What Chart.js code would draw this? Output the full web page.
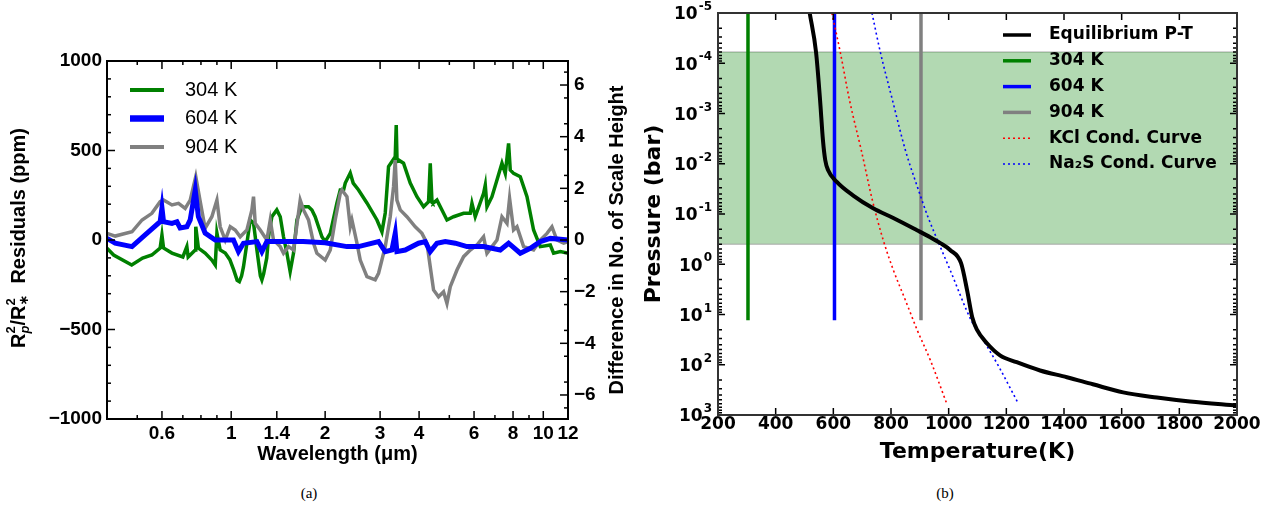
<!DOCTYPE html>
<html>
<head>
<meta charset="utf-8">
<script src="https://cdn.jsdelivr.net/npm/chart.js@4.4.0/dist/chart.umd.min.js"></script>
<style>
  body { margin: 0; background: #fff; width: 1280px; height: 513px; position: relative; overflow: hidden; }
  .panel { position: absolute; top: 0; width: 640px; height: 480px; }
  .cap { position: absolute; top: 485px; width: 60px; text-align: center; font: 15px "Liberation Serif", serif; color: #000; }
</style>
</head>
<body>
<div class="panel" style="left:0"><canvas id="spec" width="640" height="480"></canvas></div>
<div class="panel" style="left:640px"><canvas id="pt" width="640" height="480"></canvas></div>
<div class="cap" style="left:279px">(a)</div>
<div class="cap" style="left:915px">(b)</div>
<script>
// ---- panel (a): residual spectra ----
var wl304 = [0.40, 0.42, 0.48, 0.52, 0.557, 0.592, 0.60, 0.607, 0.646, 0.70, 0.721, 0.728, 0.767, 0.770, 0.785, 0.825, 0.867, 0.889, 0.90, 0.922, 0.957, 0.99, 1.02, 1.045, 1.062, 1.08, 1.095, 1.123, 1.151, 1.179, 1.209, 1.24, 1.254, 1.27, 1.30, 1.317, 1.35, 1.40, 1.436, 1.471, 1.508, 1.545, 1.584, 1.624, 1.685, 1.769, 1.814, 1.858, 1.905, 1.953, 2.0, 2.077, 2.182, 2.236, 2.291, 2.32, 2.407, 2.46, 2.559, 2.722, 2.931, 3.041, 3.116, 3.193, 3.354, 3.379, 3.40, 3.437, 3.566, 3.747, 3.937, 4.134, 4.289, 4.343, 4.40, 4.431, 4.563, 4.735, 4.913, 5.159, 5.555, 5.834, 5.908, 6.053, 6.437, 6.518, 6.60, 6.848, 7.105, 7.372, 7.554, 7.741, 7.838, 8.031, 8.438, 8.867, 9.309, 9.781, 10.53, 10.79, 11.34, 11.91, 12.0];
var res304 = [-46, -84, -140, -101, -84, -45, 28, -45, -73, -95, -37, -95, -56, 74, -45, -73, -112, -140, 39, -56, -73, -110, -170, -225, -233, -200, -149, -17, 112, 95, -56, -200, -223, -190, -100, 18, 130, 168, 130, 18, -73, -177, -73, 112, 186, 186, 168, 130, 74, 18, -9, 37, 207, 279, 279, 318, 374, 318, 279, 207, 112, 46, 151, 410, 465, 642, 440, 447, 429, 318, 242, 186, 214, 429, 210, 205, 223, 168, 112, 130, 149, 149, 205, 130, 261, 307, 186, 242, 335, 429, 372, 540, 391, 372, 354, 242, 56, -37, -28, -74, -65, -73, -73];

var wl604 = [0.40, 0.425, 0.481, 0.53, 0.592, 0.60, 0.607, 0.646, 0.67, 0.686, 0.721, 0.739, 0.767, 0.785, 0.825, 0.889, 0.957, 1.017, 1.055, 1.095, 1.209, 1.254, 1.301, 1.5, 1.7, 2.0, 2.349, 2.559, 2.966, 3.116, 3.273, 3.354, 3.396, 3.611, 3.984, 4.186, 4.343, 4.563, 4.852, 5.224, 5.695, 6.437, 7.28, 7.741, 8.438, 9.084, 9.781, 10.53, 11.34, 12.0];
var res604 = [9, -18, -37, 28, 102, 179, 102, 93, 102, 67, 74, 112, 279, 130, 39, 0, 0, 0, -65, -18, -9, -65, -9, -9, -9, -15, -37, -37, -9, -65, -56, 37, -65, -56, -18, -9, -65, -18, -9, -18, -37, -37, -56, -18, -74, -46, -9, 9, 4, 0];

var wl904 = [0.40, 0.425, 0.481, 0.518, 0.557, 0.592, 0.607, 0.646, 0.678, 0.712, 0.739, 0.770, 0.796, 0.825, 0.867, 0.90, 0.922, 0.957, 0.993, 1.03, 1.069, 1.123, 1.165, 1.179, 1.194, 1.239, 1.301, 1.334, 1.366, 1.436, 1.471, 1.526, 1.584, 1.664, 1.705, 1.769, 1.836, 1.882, 2.001, 2.077, 2.154, 2.236, 2.264, 2.349, 2.407, 2.437, 2.529, 2.591, 2.722, 2.893, 2.966, 3.116, 3.233, 3.313, 3.354, 3.396, 3.48, 3.656, 3.888, 4.085, 4.239, 4.343, 4.45, 4.617, 4.791, 4.913, 5.035, 5.289, 5.555, 5.834, 6.13, 6.437, 6.6, 6.848, 7.105, 7.372, 7.65, 7.798, 8.031, 8.235, 8.647, 9.309, 9.781, 10.28, 10.66, 11.06, 11.62, 12.0];
var res904 = [37, 22, 46, 112, 149, 214, 223, 196, 205, 177, 223, 354, 214, 65, 130, 223, 74, 0, 74, 56, 18, 56, 168, 242, 93, 56, 0, 112, 0, -37, -74, -37, -56, 223, 168, 112, -18, -74, -112, -56, 112, 261, 279, 242, 74, 112, -18, -112, -205, -223, -186, -37, 130, 298, 447, 223, 168, 130, 74, 37, -18, -149, -279, -317, -289, -354, -261, -168, -93, -56, -28, 18, -74, -37, 0, 130, 93, 233, 56, 74, -37, -56, 0, 37, 74, 0, -18, -9];

var wlTicks = [0.6, 1, 1.4, 2, 3, 4, 6, 8, 10, 12];
var wlMinor = [0.5, 0.7, 0.8, 0.9, 5, 7, 9];
var residualTicks = [-1000, -500, 0, 500, 1000];
var scaleHeightTicks = [-6, -4, -2, 0, 2, 4, 6];

// ---- panel (b): P-T profiles ----
var tempEq = [518, 540, 554, 564, 572, 582, 612, 669, 738, 808, 890, 936, 971, 1005, 1043, 1064, 1082, 1098, 1132, 1178, 1236, 1317, 1410, 1500, 1605, 1722, 1837, 2000];
var presEq = [1e-5, 6e-5, 5.4e-4, 3.4e-3, 8.5e-3, 0.0135, 0.023, 0.043, 0.077, 0.12, 0.21, 0.29, 0.38, 0.52, 0.95, 3.3, 11.5, 20, 37, 65, 89, 130, 177, 245, 355, 450, 540, 650];
var tempKCl = [595, 624, 656, 697, 735, 773, 808, 850, 891, 936, 995];
var presKCl = [1e-5, 6e-5, 5.4e-4, 5.4e-3, 0.052, 0.33, 1.3, 5.2, 20.5, 80, 630];
var tempNa2S = [734, 763, 805, 850, 895, 928, 971, 1005, 1078, 1120, 1175, 1242];
var presNa2S = [1e-5, 6e-5, 5.4e-4, 5.4e-3, 0.033, 0.114, 0.45, 1.3, 13, 32, 112, 600];
var isoTemps = [304, 604, 904];
var isoLabels = ['304 K', '604 K', '904 K'];
var isoColors = ['#008000', '#0000ff', '#808080'];
var isoPresTop = 1e-5;
var isoPresBottom = 13;
var bandPresTop = 6e-5;
var bandPresBottom = 0.4;
var tempTicks = [200, 400, 600, 800, 1000, 1200, 1400, 1600, 1800, 2000];
var presTicks = [1e-5, 1e-4, 1e-3, 1e-2, 1e-1, 1, 10, 100, 1000];

function pts(xs, ys) {
  return xs.map(function (x, i) { return { x: x, y: ys[i] }; });
}
function minus(v) {
  return v < 0 ? '\u2212' + Math.abs(v) : String(v);
}

var residualMinor = [];
for (var v = -900; v < 1000; v += 100) if (v % 500 !== 0) residualMinor.push(v);
var scaleHeightMinor = [];
for (var h = -6.5; h <= 6.5; h += 1) scaleHeightMinor.push(h);
var presMinor = [];
for (var e = -5; e < 3; e++) for (var k = 2; k <= 9; k++) presMinor.push(k * Math.pow(10, e));

// inward tick marks on all sides + frame
var inwardTicks = {
  id: 'inwardTicks',
  afterDraw: function (chart, args, opts) {
    var ctx = chart.ctx, a = chart.chartArea;
    ctx.save();
    ctx.strokeStyle = opts.color;
    opts.marks.forEach(function (m) {
      var s = chart.scales[m.scale];
      ctx.lineWidth = m.width || 1.5;
      m.values.forEach(function (val) {
        var p = s.getPixelForValue(val);
        ctx.beginPath();
        m.sides.forEach(function (side) {
          if (side === 'bottom') { ctx.moveTo(p, a.bottom); ctx.lineTo(p, a.bottom - m.len); }
          if (side === 'top') { ctx.moveTo(p, a.top); ctx.lineTo(p, a.top + m.len); }
          if (side === 'left') { ctx.moveTo(a.left, p); ctx.lineTo(a.left + m.len, p); }
          if (side === 'right') { ctx.moveTo(a.right, p); ctx.lineTo(a.right - m.len, p); }
        });
        ctx.stroke();
      });
    });
    ctx.lineWidth = opts.frameWidth;
    ctx.strokeStyle = opts.frameColor;
    ctx.strokeRect(a.left, a.top, a.right - a.left, a.bottom - a.top);
    ctx.restore();
  }
};

// vertical legend without a box
var lineKey = {
  id: 'lineKey',
  afterDraw: function (chart, args, o) {
    var ctx = chart.ctx;
    ctx.save();
    var row = 0;
    chart.data.datasets.forEach(function (d) {
      if (!d.label) return;
      var y = o.y + row * o.dy;
      ctx.beginPath();
      ctx.strokeStyle = d.borderColor;
      ctx.lineWidth = d.keyWidth || d.borderWidth;
      ctx.setLineDash(d.borderDash || []);
      ctx.moveTo(o.x, y);
      ctx.lineTo(o.x + o.len, y);
      ctx.stroke();
      ctx.setLineDash([]);
      ctx.fillStyle = '#000';
      ctx.font = o.font;
      ctx.textBaseline = 'middle';
      ctx.fillText(d.keyText || d.label, o.x + o.len + o.gap, y);
      row++;
    });
    ctx.restore();
  }
};

// rotated axis titles with super/subscripts
var richTitles = {
  id: 'richTitles',
  afterDraw: function (chart, args, opts) {
    var ctx = chart.ctx;
    opts.items.forEach(function (item) {
      ctx.save();
      var x = 0, start = 0, prevW = 0;
      var placed = item.runs.map(function (r) {
        ctx.font = r.font;
        var w = ctx.measureText(r.text).width, px;
        if (r.stack) { px = start; prevW = Math.max(prevW, w); x = start + prevW; }
        else { px = x; start = x; prevW = w; x += w; }
        return { text: r.text, font: r.font, dy: r.dy || 0, px: px };
      });
      ctx.translate(item.x, item.y);
      ctx.rotate(-Math.PI / 2);
      ctx.fillStyle = '#000';
      ctx.textBaseline = 'middle';
      ctx.textAlign = 'left';
      placed.forEach(function (r) {
        ctx.font = r.font;
        ctx.fillText(r.text, r.px - x / 2, r.dy);
      });
      ctx.restore();
    });
  }
};

// 10^n labels for the pressure axis, exponent raised
var powerLabels = {
  id: 'powerLabels',
  afterDraw: function (chart, args, o) {
    var ctx = chart.ctx, s = chart.scales[o.scale];
    ctx.save();
    ctx.fillStyle = '#000';
    ctx.textBaseline = 'middle';
    ctx.textAlign = 'right';
    o.values.forEach(function (val) {
      var y = s.getPixelForValue(val);
      var ex = String(Math.round(Math.log10(val)));
      ctx.font = o.expFont;
      var w = ctx.measureText(ex).width;
      ctx.fillText(ex, o.right, y + o.expDy);
      ctx.font = o.font;
      ctx.fillText('10', o.right - w - 1, y + o.dy);
    });
    ctx.restore();
  }
};

var LS = '"Liberation Sans", "DejaVu Sans", sans-serif';
var DJ = '"DejaVu Sans", sans-serif';

new Chart(document.getElementById('spec'), {
  type: 'line',
  data: {
    datasets: [
      { label: '304 K', data: pts(wl304, res304), borderColor: '#008000', borderWidth: 3.5, keyWidth: 4, pointRadius: 0, order: 3 },
      { label: '604 K', data: pts(wl604, res604), borderColor: '#0000ff', borderWidth: 5, keyWidth: 6.5, pointRadius: 0, order: 1 },
      { label: '904 K', data: pts(wl904, res904), borderColor: '#808080', borderWidth: 3.5, keyWidth: 4, pointRadius: 0, order: 2 }
    ]
  },
  options: {
    responsive: false,
    animation: false,
    layout: { padding: { top: 61, left: 0, right: 0, bottom: 0 } },
    plugins: {
      legend: { display: false },
      tooltip: { enabled: false },
      lineKey: { x: 130, y: 90, dy: 28.5, len: 34, gap: 21, font: '20px ' + LS },
      inwardTicks: {
        color: '#000', frameColor: '#000', frameWidth: 2,
        marks: [
          { scale: 'x', values: wlTicks, len: 8, sides: ['bottom', 'top'] },
          { scale: 'x', values: wlMinor, len: 4, sides: ['bottom', 'top'] },
          { scale: 'y', values: residualTicks, len: 8, sides: ['left'] },
          { scale: 'y', values: residualMinor, len: 4, sides: ['left'] },
          { scale: 'y1', values: scaleHeightTicks, len: 8, sides: ['right'] },
          { scale: 'y1', values: scaleHeightMinor, len: 4, sides: ['right'] }
        ]
      },
      richTitles: {
        items: [
          { x: 19, y: 238, runs: [
            { text: 'R', font: 'bold 20px ' + LS },
            { text: '2', font: 'bold 13px ' + LS, dy: -8 },
            { text: 'p', font: 'italic bold 13px ' + LS, dy: 6, stack: true },
            { text: '/R', font: 'bold 20px ' + LS },
            { text: '2', font: 'bold 13px ' + LS, dy: -8 },
            { text: '\u2217', font: 'bold 13px ' + DJ, dy: 6, stack: true },
            { text: '  Residuals (ppm)', font: 'bold 20px ' + LS }
          ] },
          { x: 617, y: 240, runs: [
            { text: 'Difference in No. of Scale Height', font: 'bold 20px ' + LS }
          ] }
        ]
      }
    },
    scales: {
      x: {
        type: 'logarithmic',
        position: 'bottom',
        min: 0.4,
        max: 12,
        afterFit: function (s) { s.height = 61; },
        afterBuildTicks: function (s) { s.ticks = wlTicks.map(function (v) { return { value: v }; }); },
        grid: { display: false, drawTicks: false },
        border: { display: false },
        ticks: {
          autoSkip: false, maxRotation: 0, padding: 3, color: '#000',
          font: { family: LS, weight: 'bold', size: 19 },
          callback: function (v) { return String(v); }
        },
        title: {
          display: true, text: 'Wavelength (\u03bcm)', color: '#000',
          font: { family: LS, weight: 'bold', size: 20 },
          padding: { top: 0, bottom: 14 }
        }
      },
      y: {
        type: 'linear',
        position: 'left',
        min: -1000,
        max: 1000,
        afterFit: function (s) { s.width = 107; },
        afterBuildTicks: function (s) { s.ticks = residualTicks.map(function (v) { return { value: v }; }); },
        grid: { display: false, drawTicks: false },
        border: { display: false },
        ticks: {
          padding: 5, color: '#000',
          font: { family: LS, weight: 'bold', size: 19 },
          callback: function (v) { return minus(v); }
        }
      },
      y1: {
        type: 'linear',
        position: 'right',
        min: -6.93,
        max: 6.93,
        afterFit: function (s) { s.width = 72; },
        afterBuildTicks: function (s) { s.ticks = scaleHeightTicks.map(function (v) { return { value: v }; }); },
        grid: { display: false, drawTicks: false },
        border: { display: false },
        ticks: {
          padding: 6, color: '#000',
          font: { family: LS, weight: 'bold', size: 19 },
          callback: function (v) { return minus(v); }
        }
      }
    }
  },
  plugins: [inwardTicks, lineKey, richTitles]
});

// ---- panel (b) ----
var ptSets = [
  { label: 'Equilibrium P-T', data: pts(tempEq, presEq), borderColor: '#000', borderWidth: 4, keyWidth: 3.5, pointRadius: 0, cubicInterpolationMode: 'monotone', order: 1 }
];
isoTemps.forEach(function (t, i) {
  ptSets.push({ label: isoLabels[i], data: pts([t, t], [isoPresTop, isoPresBottom]), borderColor: isoColors[i], borderWidth: 3.5, keyWidth: 3.5, pointRadius: 0, order: 5 });
});
ptSets.push({ label: 'KCl Cond. Curve', data: pts(tempKCl, presKCl), borderColor: '#ff0000', borderWidth: 1.6, borderDash: [2, 3], pointRadius: 0, cubicInterpolationMode: 'monotone', order: 4 });
ptSets.push({ label: 'Na2S Cond. Curve', keyText: 'Na\u2082S Cond. Curve', data: pts(tempNa2S, presNa2S), borderColor: '#0000ff', borderWidth: 1.6, borderDash: [2, 3], pointRadius: 0, cubicInterpolationMode: 'monotone', order: 4 });
ptSets.push({ data: pts([200, 2000], [bandPresTop, bandPresTop]), borderColor: 'rgba(160,160,160,0.6)', borderWidth: 1.5, pointRadius: 0, order: 10 });
ptSets.push({ data: pts([200, 2000], [bandPresBottom, bandPresBottom]), borderColor: 'rgba(160,160,160,0.6)', borderWidth: 1.5, pointRadius: 0, backgroundColor: 'rgba(0,128,0,0.3)', fill: '-1', order: 9 });

new Chart(document.getElementById('pt'), {
  type: 'line',
  data: { datasets: ptSets },
  options: {
    responsive: false,
    animation: false,
    layout: { padding: { top: 13, left: 0, right: 43, bottom: 0 } },
    plugins: {
      legend: { display: false },
      tooltip: { enabled: false },
      lineKey: { x: 363, y: 35, dy: 25.8, len: 28, gap: 18, font: 'bold 17px ' + DJ },
      powerLabels: { scale: 'y', values: presTicks, right: 72, font: 'bold 17px ' + DJ, expFont: 'bold 12px ' + DJ, dy: 2, expDy: -6 },
      inwardTicks: {
        color: '#000', frameColor: '#333', frameWidth: 2,
        marks: [
          { scale: 'x', values: tempTicks, len: 7, sides: ['bottom', 'top'] },
          { scale: 'y', values: presTicks, len: 7, sides: ['left', 'right'] },
          { scale: 'y', values: presMinor, len: 4, sides: ['left', 'right'] }
        ]
      }
    },
    scales: {
      x: {
        type: 'linear',
        position: 'bottom',
        min: 200,
        max: 2000,
        afterFit: function (s) { s.height = 65; },
        afterBuildTicks: function (s) { s.ticks = tempTicks.map(function (v) { return { value: v }; }); },
        grid: { display: false, drawTicks: false },
        border: { display: false },
        ticks: {
          autoSkip: false, maxRotation: 0, padding: -1, color: '#000',
          font: { family: DJ, weight: 'bold', size: 17 },
          callback: function (v) { return String(v); }
        },
        title: {
          display: true, text: 'Temperature(K)', color: '#000',
          font: { family: DJ, weight: 'bold', size: 22 },
          padding: { top: 0, bottom: 15 }
        }
      },
      y: {
        type: 'logarithmic',
        position: 'left',
        reverse: true,
        min: 1e-5,
        max: 1e3,
        afterFit: function (s) { s.width = 78; },
        grid: { display: false, drawTicks: false },
        border: { display: false },
        ticks: { display: false },
        title: {
          display: true, text: 'Pressure (bar)', color: '#000',
          font: { family: DJ, weight: 'bold', size: 22 },
          padding: { top: 1, bottom: 0 }
        }
      }
    }
  },
  plugins: [inwardTicks, lineKey, powerLabels]
});
</script>
</body>
</html>
